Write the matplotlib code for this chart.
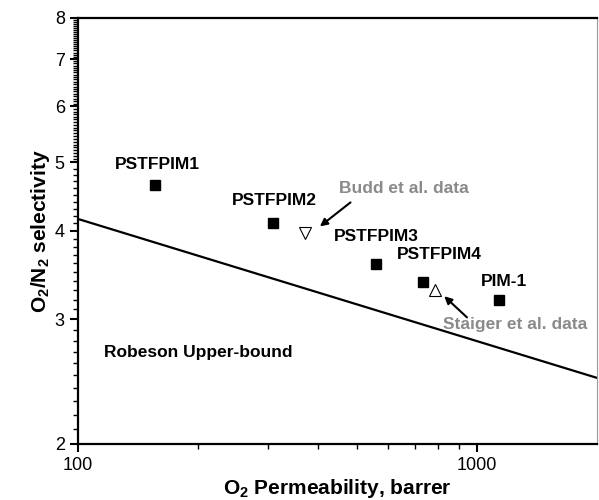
import numpy as np
import matplotlib
matplotlib.use("Agg")
import matplotlib.pyplot as plt
from matplotlib.ticker import FixedLocator, NullFormatter

plt.rcParams['font.family'] = ['Liberation Sans', 'DejaVu Sans']
plt.rcParams['mathtext.default'] = 'regular'

# --- data ---
names = ["PSTFPIM1", "PSTFPIM2", "PSTFPIM3", "PSTFPIM4", "PIM-1"]
perm = [156, 308, 557, 733, 1135]
selec = [4.65, 4.10, 3.59, 3.39, 3.20]

budd_perm = [371]
budd_sel = [3.97]
staiger_perm = [785]
staiger_sel = [3.30]

# Robeson 1991 upper bound end points
robeson_perm = [100, 2000]
robeson_sel = [4.16, 2.48]

# label positions (data coords)
label_pos = [(158, 4.96), (311, 4.42), (560, 3.93), (804, 3.70), (1167, 3.39)]

fig = plt.figure(figsize=(5.99, 5.0), dpi=100)
ax = fig.add_axes([0.1302, 0.112, 0.8665, 0.852])

ax.set_xscale('log')
ax.set_yscale('log')
ax.set_xlim(100, 2000)
ax.set_ylim(2, 8)

ax.plot(robeson_perm, robeson_sel, color='black', lw=1.6)
ax.plot(perm, selec, 's', color='black', ms=6.5, ls='none')
ax.plot(budd_perm, budd_sel, 'v', mfc='white', mec='black', mew=0.8, ms=8.5, ls='none')
ax.plot(staiger_perm, staiger_sel, '^', mfc='white', mec='black', mew=0.8, ms=8.5, ls='none')

for name, (lx, ly) in zip(names, label_pos):
    ax.text(lx, ly, name, ha='center', va='center', fontsize=12.5, fontweight='bold')

ax.text(116, 2.69, "Robeson Upper-bound", ha='left', va='center',
        fontsize=12.5, fontweight='bold')

gray = '#8a8a8a'
ax.text(655, 4.60, "Budd et al. data", ha='center', va='center',
        fontsize=12.5, fontweight='bold', color=gray)
ax.text(1250, 2.95, "Staiger et al. data", ha='center', va='center',
        fontsize=12.5, fontweight='bold', color=gray)

arrow = dict(arrowstyle='-|>', color='black', lw=1.5, mutation_scale=11,
             shrinkA=0, shrinkB=0)
ax.annotate("", xy=(404, 4.06), xytext=(482, 4.39), arrowprops=arrow)
ax.annotate("", xy=(828, 3.235), xytext=(944, 3.02), arrowprops=arrow)

# ticks
ax.xaxis.set_major_locator(FixedLocator([100, 1000]))
ax.xaxis.set_minor_locator(FixedLocator([200, 300, 400, 500, 600, 700, 800, 900]))
ax.set_xticklabels(['100', '1000'])
ax.xaxis.set_minor_formatter(NullFormatter())

ax.yaxis.set_major_locator(FixedLocator([2, 3, 4, 5, 6, 7, 8]))
ax.set_yticklabels(['2', '3', '4', '5', '6', '7', '8'])
ymin = list(np.round(np.arange(2.1, 5.0, 0.1), 2)) + list(np.round(np.arange(5.05, 8.0, 0.05), 2))
ymin = [v for v in ymin if abs(v - round(v)) > 1e-6]
ax.yaxis.set_minor_locator(FixedLocator(ymin))
ax.yaxis.set_minor_formatter(NullFormatter())

ax.tick_params(which='major', direction='out', length=6, width=1.5, labelsize=13,
               top=False, right=False)
ax.tick_params(which='minor', direction='out', length=3.5, width=1.0,
               top=False, right=False)

for s in ['left', 'bottom', 'top']:
    ax.spines[s].set_linewidth(1.6)
ax.spines['right'].set_linewidth(0.8)
ax.spines['right'].set_color('#999999')

ax.set_xlabel(r"O$_2$ Permeability, barrer", fontsize=15, fontweight='bold', labelpad=2)
ax.set_ylabel(r"O$_2$/N$_2$ selectivity", fontsize=15, fontweight='bold', labelpad=2)

fig.savefig("out.png", dpi=100)
